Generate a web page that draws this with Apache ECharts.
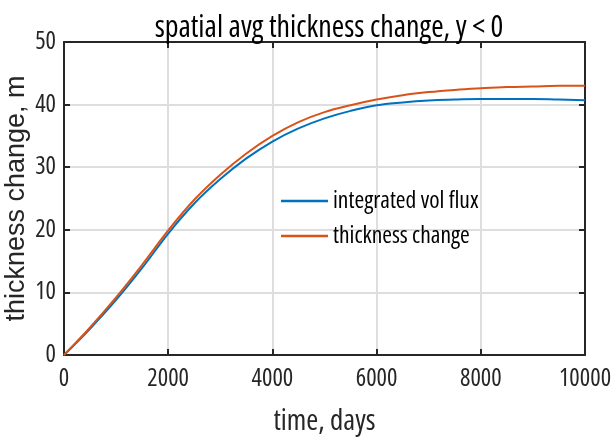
<!DOCTYPE html>
<html>
<head>
<meta charset="utf-8">
<script src="https://cdn.jsdelivr.net/npm/echarts@6/dist/echarts.min.js"></script>
<style>html,body{margin:0;padding:0;background:#fff;}#c{width:614px;height:440px;}</style>
</head>
<body>
<div id="c"></div>
<script>
var timeDays = [0, 500, 1000, 1500, 2000, 2500, 3000, 3500, 4000, 4500, 5000, 5500, 6000, 6500, 7000, 7500, 8000, 8500, 9000, 9500, 10000];
var integratedVolFlux = [0, 4.2, 8.8, 13.9, 19.4, 24.2, 28.1, 31.4, 34.1, 36.2, 37.8, 39.0, 39.9, 40.35, 40.65, 40.8, 40.9, 40.9, 40.9, 40.8, 40.7];
var thicknessChange = [0, 4.4, 9.2, 14.4, 19.9, 24.8, 28.8, 32.2, 35.0, 37.2, 38.8, 39.9, 40.8, 41.5, 42.0, 42.35, 42.6, 42.8, 42.9, 43.0, 43.0];
var seriesNames = ['integrated vol flux', 'thickness change'];
var xTicks = [0, 2000, 4000, 6000, 8000, 10000];
var yTicks = [0, 10, 20, 30, 40, 50];

function pairs(xs, ys) { return xs.map(function (x, i) { return [x, ys[i]]; }); }

// pick a narrow font if one is installed; otherwise scale a regular one
var probe = document.createElement('canvas').getContext('2d');
var sample = 'spatial avg thickness change, y < 0 0123456789';
function w(font) { probe.font = font; return probe.measureText(sample).width; }
var baseW = w("24px 'Liberation Sans'");
var monoW = w('24px monospace');
var candidates = [
  { fam: "'Liberation Sans Narrow'", st: 'normal' },
  { fam: "'Arial Narrow'", st: 'normal' },
  { fam: "'Nimbus Sans Narrow'", st: 'normal' },
  { fam: "'Roboto Condensed'", st: 'normal' },
  { fam: "'Noto Sans Condensed'", st: 'normal' },
  { fam: "'Open Sans Condensed'", st: 'normal' },
  { fam: "'Noto Sans'", st: 'condensed' },
  { fam: "'Open Sans'", st: 'condensed' },
  { fam: "'DejaVu Sans Condensed'", st: 'normal' },
  { fam: "'DejaVu Sans'", st: 'condensed' }
];
var best = { fam: "'Liberation Sans'", st: 'normal', ratio: 1 };
candidates.forEach(function (c) {
  var cw = w(c.st + ' 24px ' + c.fam + ', monospace');
  if (Math.abs(cw - monoW) > 0.5) {
    var r = cw / baseW;
    if (r < best.ratio - 0.02) best = { fam: c.fam, st: c.st, ratio: r };
  }
});
var TARGET = 0.76;
var scale = best.ratio > TARGET ? TARGET / best.ratio : 1;
var NARROW = best.fam + ", 'Liberation Sans', sans-serif";
var WEIGHT = best.st === 'normal' ? 'normal' : 'normal ' + best.st;
function fs(s) { return Math.round(s * scale * 10) / 10; }

var INK = '#262626';
function axisCommon(show) {
  return {
    axisLine: { show: true, onZero: false, lineStyle: { color: INK, width: 2 } },
    axisTick: { show: true, inside: true, length: 6, lineStyle: { color: INK, width: 2 } },
    axisLabel: { show: show, color: INK, fontFamily: NARROW, fontWeight: WEIGHT, fontSize: fs(24.5),
      formatter: function (v) { return String(v); } },
    splitLine: { show: show, lineStyle: { color: '#dedede', width: 2 } }
  };
}

var chart = echarts.init(document.getElementById('c'), null, { renderer: 'canvas' });
var xMain = Object.assign({ type: 'value', position: 'bottom', min: xTicks[0], max: xTicks[xTicks.length - 1], interval: xTicks[1] - xTicks[0],
  name: 'time, days', nameLocation: 'middle', nameGap: 52, nameMoveOverlap: false,
  nameTextStyle: { color: INK, fontFamily: NARROW, fontWeight: WEIGHT, fontSize: fs(29) } }, axisCommon(true));
xMain.axisLabel.margin = 12;
var xTop = Object.assign({ type: 'value', position: 'top', min: xTicks[0], max: xTicks[xTicks.length - 1], interval: xTicks[1] - xTicks[0] }, axisCommon(false));
var yMain = Object.assign({ type: 'value', position: 'left', min: yTicks[0], max: yTicks[yTicks.length - 1], interval: yTicks[1] - yTicks[0],
  name: 'thickness change, m', nameLocation: 'middle', nameGap: 34, nameMoveOverlap: false,
  nameTextStyle: { color: INK, fontFamily: "'Liberation Sans', Arial, sans-serif", fontSize: 27 } }, axisCommon(true));
yMain.axisLabel.margin = 8;
var yRight = Object.assign({ type: 'value', position: 'right', min: yTicks[0], max: yTicks[yTicks.length - 1], interval: yTicks[1] - yTicks[0] }, axisCommon(false));

chart.setOption({
  animation: false,
  backgroundColor: '#ffffff',
  title: {
    text: 'spatial avg thickness change, y < 0',
    left: 324, textAlign: 'center', top: 8,
    textStyle: { color: '#000', fontFamily: NARROW, fontWeight: WEIGHT, fontSize: fs(30) }
  },
  grid: { left: 64, right: 29, top: 42, bottom: 85, containLabel: false, outerBoundsMode: 'none' },
  legend: {
    orient: 'vertical', left: 281, top: 189, padding: 0,
    icon: 'rect', itemWidth: 47, itemHeight: 2.5, itemGap: 11,
    textStyle: { color: '#000', fontFamily: NARROW, fontWeight: WEIGHT, fontSize: fs(23.5), lineHeight: 22 },
    data: seriesNames
  },
  xAxis: [xMain, xTop],
  yAxis: [yMain, yRight],
  series: [
    { name: seriesNames[0], type: 'line', xAxisIndex: 0, yAxisIndex: 0, data: pairs(timeDays, integratedVolFlux),
      showSymbol: false, smooth: 0.4, lineStyle: { color: '#0072BD', width: 2 }, itemStyle: { color: '#0072BD' } },
    { name: seriesNames[1], type: 'line', xAxisIndex: 0, yAxisIndex: 0, data: pairs(timeDays, thicknessChange),
      showSymbol: false, smooth: 0.4, lineStyle: { color: '#D95319', width: 2 }, itemStyle: { color: '#D95319' } }
  ]
});
</script>
</body>
</html>
